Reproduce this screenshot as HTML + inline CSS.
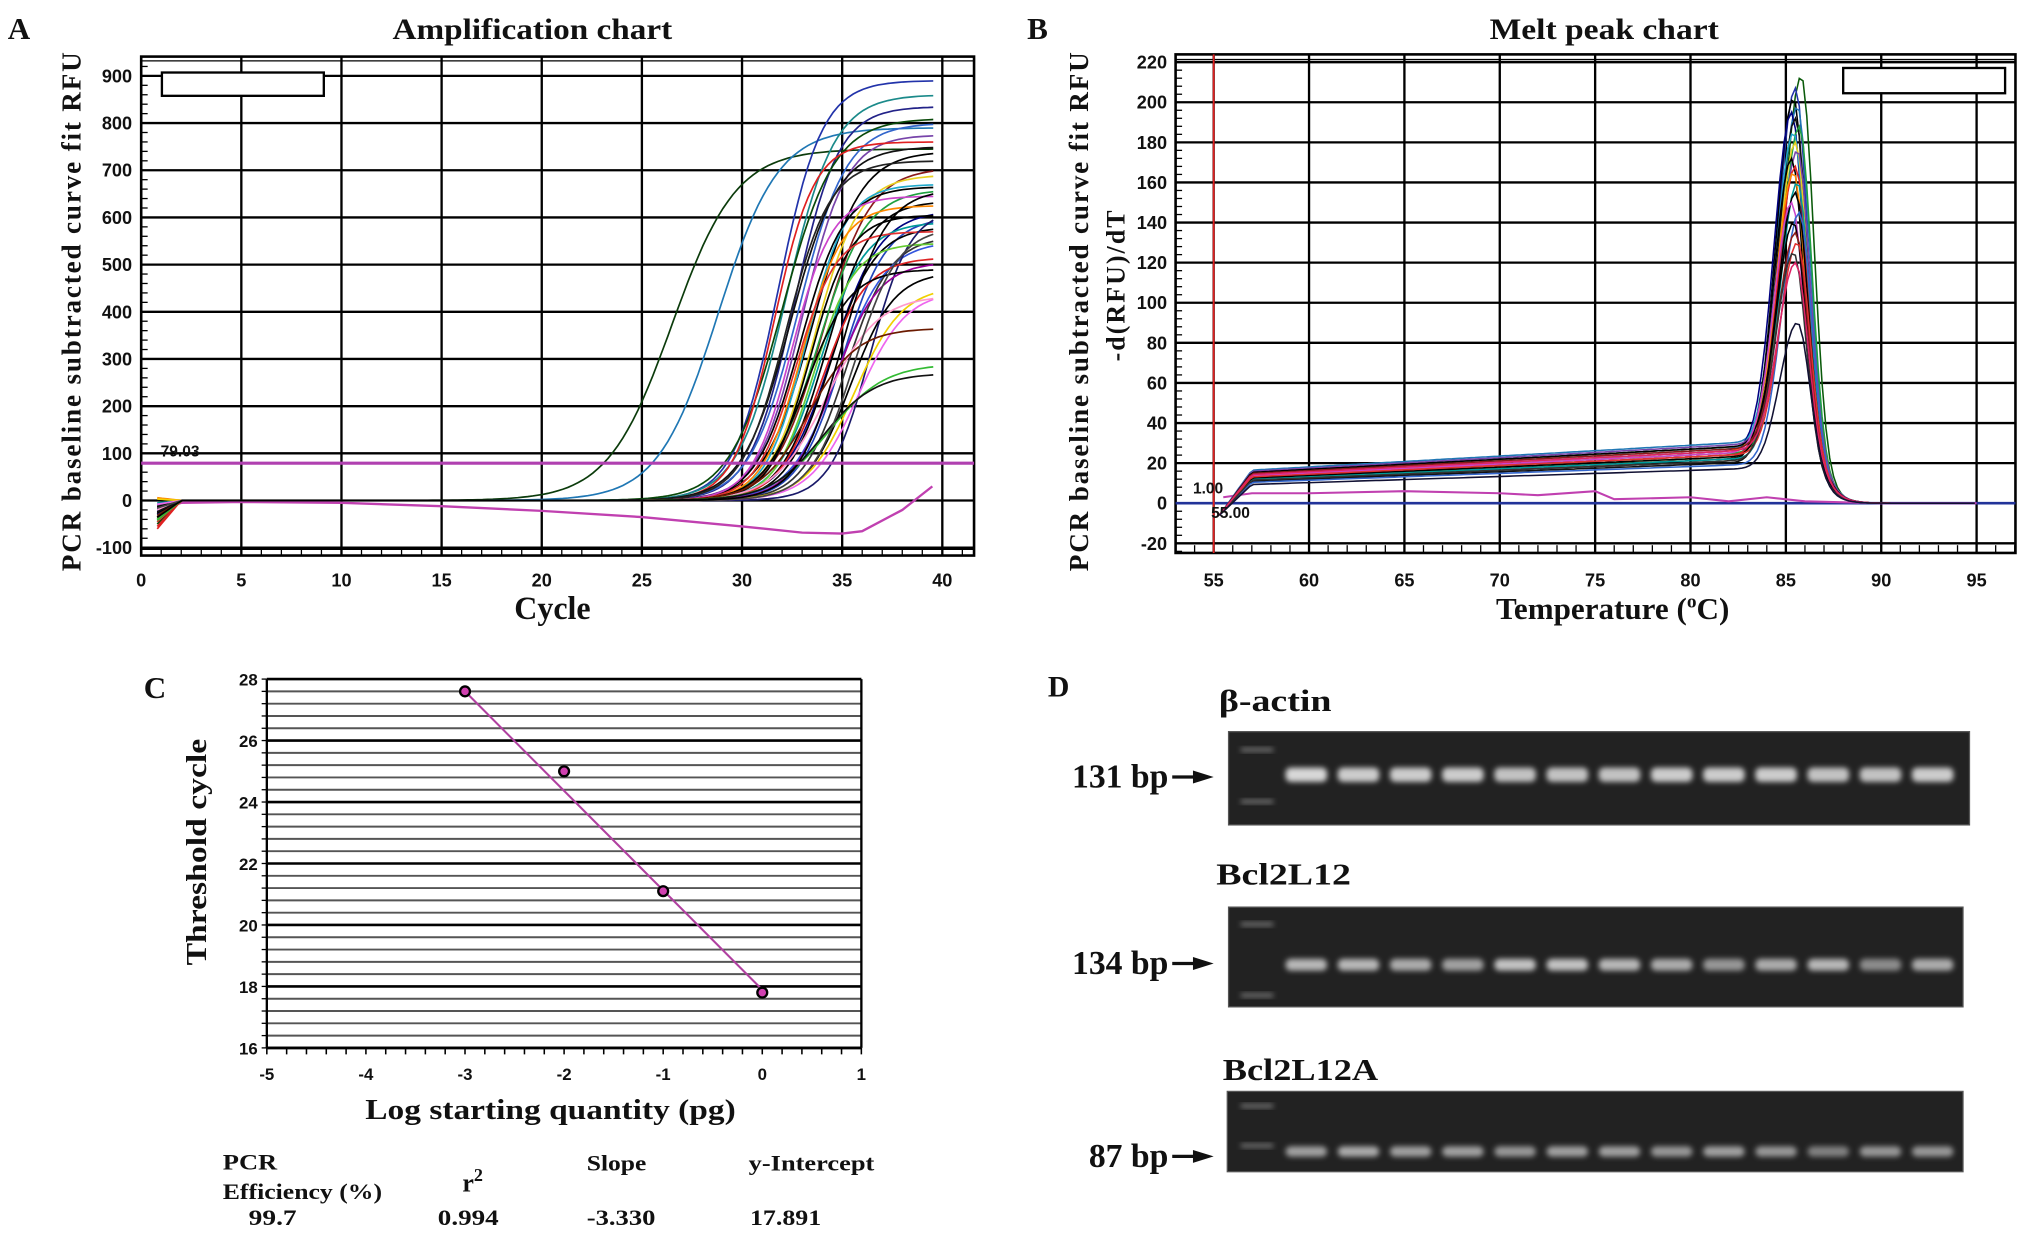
<!DOCTYPE html>
<html><head><meta charset="utf-8"><title>qPCR figure</title>
<style>
html,body{margin:0;padding:0;background:#fff;}
svg{display:block;}
.ser{font-family:"Liberation Serif",serif;font-weight:bold;fill:#111;}
.san{font-family:"Liberation Sans",sans-serif;font-weight:bold;fill:#111;}
</style></head>
<body>
<svg id="fig" xmlns="http://www.w3.org/2000/svg" width="2031" height="1238" viewBox="0 0 1568 956" preserveAspectRatio="none">
<defs><filter id="blur" x="-50%" y="-50%" width="200%" height="200%"><feGaussianBlur stdDeviation="2"/></filter></defs>
<text class="ser" x="6" y="30" font-size="24">A</text>
<text class="ser" x="303" y="30" font-size="23" textLength="216" lengthAdjust="spacingAndGlyphs">Amplification chart</text>
<text class="ser" transform="translate(62,240) rotate(-90)" font-size="21" text-anchor="middle" letter-spacing="1.4">PCR baseline subtracted curve fit RFU</text>
<text class="ser" x="397" y="478" font-size="25" textLength="59" lengthAdjust="spacingAndGlyphs">Cycle</text>

<text class="ser" x="793" y="30" font-size="24">B</text>
<text class="ser" x="1150" y="30" font-size="23" textLength="177" lengthAdjust="spacingAndGlyphs">Melt peak chart</text>
<text class="ser" transform="translate(840,240) rotate(-90)" font-size="21" text-anchor="middle" letter-spacing="1.4">PCR baseline subtracted curve fit RFU</text>
<text class="ser" transform="translate(868,220) rotate(-90)" font-size="20" text-anchor="middle" letter-spacing="1.6">-d(RFU)/dT</text>
<text class="ser" x="1155" y="478" font-size="24">Temperature (<tspan font-size="15" dy="-9">o</tspan><tspan dy="9">C)</tspan></text>

<text class="ser" x="111" y="539" font-size="24">C</text>
<text class="ser" transform="translate(159,658) rotate(-90)" font-size="22" text-anchor="middle" textLength="175" lengthAdjust="spacingAndGlyphs">Threshold cycle</text>
<text class="ser" x="282" y="864" font-size="22" textLength="286" lengthAdjust="spacingAndGlyphs">Log starting quantity (pg)</text>
<g class="ser" font-size="17">
<text x="172" y="903" textLength="42" lengthAdjust="spacingAndGlyphs">PCR</text>
<text x="172" y="926" textLength="123" lengthAdjust="spacingAndGlyphs">Efficiency (%)</text>
<text x="357" y="920" font-size="20">r<tspan font-size="14" dy="-8">2</tspan></text>
<text x="453" y="904" textLength="46" lengthAdjust="spacingAndGlyphs">Slope</text>
<text x="578" y="904" textLength="97" lengthAdjust="spacingAndGlyphs">y-Intercept</text>
<text x="192" y="946" textLength="37" lengthAdjust="spacingAndGlyphs">99.7</text>
<text x="338" y="946" textLength="47" lengthAdjust="spacingAndGlyphs">0.994</text>
<text x="453" y="946" textLength="53" lengthAdjust="spacingAndGlyphs">-3.330</text>
<text x="579" y="946" textLength="55" lengthAdjust="spacingAndGlyphs">17.891</text>
</g>

<text class="ser" x="809" y="538" font-size="23">D</text>
<text class="ser" x="941" y="549" font-size="24" textLength="87" lengthAdjust="spacingAndGlyphs">β-actin</text>
<text class="ser" x="939" y="683" font-size="24" textLength="104" lengthAdjust="spacingAndGlyphs">Bcl2L12</text>
<text class="ser" x="944" y="834" font-size="24" textLength="120" lengthAdjust="spacingAndGlyphs">Bcl2L12A</text>
<g id="plots"></g>
</svg>
<script>
// ---------------- Panel A data ----------------
const ampThreshold = 79.03;
const ampXTicks = [0,5,10,15,20,25,30,35,40];
const ampYTicks = [-100,0,100,200,300,400,500,600,700,800,900];
const ampMid = [26.5,28.8,31.8,32.2,32.6,32.0,32.8,33.0,31.6,32.4,33.5,32.2,34.0,33.6,33.2,32.9,33.8,32.5,34.2,33.0,34.5,33.4,35.0,33.9,34.4,32.7,35.2,34.8,36.4,33.6,34.0,34.6,33.2,35.4,35.6,35.8,34.2,33.3,34.3,34.0,35.6,35.0];
const ampPlateau = [745,790,890,860,835,810,800,775,760,750,740,720,705,690,670,665,660,645,635,625,615,605,600,590,580,570,560,550,620,545,515,505,490,485,455,445,435,365,290,270,580,660];
const ampSteep = [1.6,1.5,1.1,1.2,1.1,1.3,1.2,1.1,1.0,1.2,1.2,1.1,1.2,1.1,1.0,1.1,1.2,1.0,1.1,1.0,1.2,1.0,1.1,1.1,1.1,1.0,1.1,1.2,1.0,1.0,1.1,1.1,1.1,1.1,1.2,1.2,1.3,1.2,1.4,1.3,1.1,1.1];
const ampStart = [-30,-20,-10,-40,-15,-50,-25,-8,-60,-35,-20,-45,-12,5,-18,-30,-40,-10,-25,6,-15,-35,-20,-5,-28,-45,-12,-22,-30,-38,-55,-18,-26,-14,3,-8,-20,-32,-42,-24,-16,-36];
const ampColors = ['#0b3b0b','#1f77b4','#2233aa','#1b8a8a','#222288','#0a4a0a','#3366cc','#7744aa','#e02020','#111111','#000000','#222222','#8b1a1a','#e8d020','#22aacc','#000000','#20a040','#cc44cc','#000000','#ff8800','#000080','#000000','#2244bb','#009999','#000000','#e03030','#333333','#3355dd','#1a1a6a','#66cc33','#dd2222','#990099','#000000','#000000','#f0d000','#ee66ee','#ff99cc','#6b1a00','#33bb33','#111111','#444444','#000000'];
const negCycles = [0.8,2,5,10,15,20,25,30,33,35,36,38,39.5];
const negValues = [-20,-5,-3,-5,-12,-22,-35,-55,-68,-70,-65,-20,30];

// ---------------- Panel B data ----------------
const meltXTicks = [55,60,65,70,75,80,85,90,95];
const meltYTicks = [-20,0,20,40,60,80,100,120,140,160,180,200,220];
const meltPeak = [213,207,202,198,195,192,188,185,180,176,172,168,165,160,155,150,145,140,135,130,125,120,90];
const meltBase = [28,24,22,30,26,20,25,27,23,29,21,24,26,22,28,25,19,23,27,24,21,26,17];
const meltTm = [85.8,85.5,85.4,85.6,85.3,85.5,85.7,85.4,85.5,85.6,85.3,85.5,85.4,85.6,85.5,85.3,85.7,85.4,85.5,85.6,85.4,85.5,85.6];
const meltColors = ['#0a5a0a','#2233aa','#000000','#1f77b4','#000080','#111111','#20a040','#22aacc','#e8d020','#7744aa','#000000','#e02020','#ff8800','#009999','#000000','#cc44cc','#3366cc','#000000','#8b1a1a','#e03030','#333333','#dd2266','#111133'];
const meltNegT = [55.5,57,60,65,70,72,75,76,80,82,84,86,90,95];
const meltNegV = [3,5,5,6,5,4,6,2,3,1,3,1,0,0];

// ---------------- Panel C data ----------------
const stdX = [-3,-2,-1,0];
const stdY = [27.6,25.0,21.1,17.8];
const fitSlope = -3.330;
const fitIntercept = 17.891;
const stdXTicks = [-5,-4,-3,-2,-1,0,1];
const stdYTicks = [16,18,20,22,24,26,28];

// ---------------- Panel D data ----------------
const gelActin = [1.0,0.95,0.95,0.95,0.9,0.9,0.9,0.95,0.95,0.95,0.9,0.9,0.95];
const gelBcl = [0.85,0.85,0.8,0.75,0.9,0.9,0.85,0.8,0.7,0.8,0.85,0.65,0.8];
const gelBclA = [0.75,0.8,0.75,0.75,0.7,0.75,0.75,0.7,0.75,0.7,0.6,0.7,0.7];

const NS='http://www.w3.org/2000/svg';
const root=document.getElementById('plots');
function mk(tag,attrs,parent){const e=document.createElementNS(NS,tag);for(const k in attrs)e.setAttribute(k,attrs[k]);(parent||root).appendChild(e);return e;}
function lin(d0,d1,r0,r1){return v=>r0+(v-d0)*(r1-r0)/(d1-d0);}

// ===== Panel A =====
(function(){
const g=mk('g',{});


const X=lin(0,40,109,727.5), Y=lin(0,900,386.5,58.6);
const L=109,R=752,T=43.7,B=429;
mk('rect',{x:L,y:T,width:R-L,height:B-T,fill:'#fff',stroke:'#000','stroke-width':2},g);
ampXTicks.forEach(v=>{ if(v>0){const l=mk('line',{x1:X(v),x2:X(v),y1:T,y2:B,stroke:'#000','stroke-width':1.8},g);

}
const t=mk('text',{x:X(v),y:453,'text-anchor':'middle','font-size':14,class:'san'},g);t.textContent=v;

});
ampYTicks.forEach(v=>{const l=mk('line',{x1:L,x2:R,y1:Y(v),y2:Y(v),stroke:'#000','stroke-width':1.8},g);


const t=mk('text',{x:102,y:Y(v)+5,'text-anchor':'end','font-size':14,class:'san'},g);t.textContent=v;

});
mk('line',{x1:L,x2:R,y1:424,y2:424,stroke:'#000','stroke-width':1.5},g);
mk('line',{x1:L,x2:R,y1:47,y2:47,stroke:'#000','stroke-width':1},g);
for(let v=-100;v<=920;v+=20){mk('line',{x1:L,x2:L+5,y1:Y(v),y2:Y(v),stroke:'#000','stroke-width':1},g);}
for(let c=1;c<42;c++){mk('line',{x1:X(c),x2:X(c),y1:424,y2:429,stroke:'#000','stroke-width':1},g);}
const lg=mk('rect',{x:125,y:56,width:125,height:18,fill:'#fff',stroke:'#000','stroke-width':1.8},g);


let p='';negCycles.forEach((c,i)=>{p+=(i?'L':'M')+X(c).toFixed(1)+' '+Y(negValues[i]).toFixed(1);});
const neg=mk('path',{d:p,fill:'none',stroke:'#c040b0','stroke-width':1.8},g);


ampMid.forEach((m,i)=>{
 let d='';
 for(let c=0.8;c<=39.55;c+=0.25){
  let v=ampPlateau[i]/(1+Math.exp(-(c-m)/ampSteep[i]));
  if(c<2) v+=ampStart[i]*(2-c)/1.2;
  d+=(d?'L':'M')+X(c).toFixed(1)+' '+Y(v).toFixed(1);
 }
 const path=mk('path',{d:d,fill:'none',stroke:ampColors[i],'stroke-width':1.3},g);
 
 
});
const th=mk('line',{x1:L,x2:R,y1:Y(ampThreshold),y2:Y(ampThreshold),stroke:'#b040b0','stroke-width':2.4},g);


const tt=mk('text',{x:124,y:Y(ampThreshold)-5,'font-size':12,class:'san','font-weight':'normal'},g);tt.textContent=ampThreshold.toFixed(2);


})();

// ===== Panel B =====
(function(){
const g=mk('g',{});


const X=lin(55,95,937,1526), Y=lin(0,220,388.6,48);
const L=907.6,R=1556,T=42,B=427;
mk('rect',{x:L,y:T,width:R-L,height:B-T,fill:'#fff',stroke:'#000','stroke-width':2},g);
meltXTicks.forEach(v=>{const l=mk('line',{x1:X(v),x2:X(v),y1:T,y2:B,stroke:'#000','stroke-width':1.8},g);


const t=mk('text',{x:X(v),y:453,'text-anchor':'middle','font-size':14,class:'san'},g);t.textContent=v;

});
meltYTicks.forEach(v=>{const l=mk('line',{x1:L,x2:R,y1:Y(v),y2:Y(v),stroke:'#000','stroke-width':1.8},g);


const t=mk('text',{x:901,y:Y(v)+5,'text-anchor':'end','font-size':14,class:'san'},g);t.textContent=v;

});
mk('line',{x1:L,x2:R,y1:46,y2:46,stroke:'#000','stroke-width':1},g);
for(let v=-24;v<=224;v+=4){mk('line',{x1:L,x2:L+5,y1:Y(v),y2:Y(v),stroke:'#000','stroke-width':1},g);}
for(let c=53;c<=97;c++){mk('line',{x1:X(c),x2:X(c),y1:421,y2:427,stroke:'#000','stroke-width':1},g);}
const lg=mk('rect',{x:1423,y:52.5,width:125,height:19.5,fill:'#fff',stroke:'#000','stroke-width':1.8},g);


mk('line',{x1:L,x2:R,y1:Y(0),y2:Y(0),stroke:'#223399','stroke-width':2},g);
let p='';meltNegT.forEach((c,i)=>{p+=(i?'L':'M')+X(c).toFixed(1)+' '+Y(meltNegV[i]).toFixed(1);});
const neg=mk('path',{d:p,fill:'none',stroke:'#c040b0','stroke-width':1.6},g);


meltPeak.forEach((pk,i)=>{
 let d='';const b=meltBase[i],tm=meltTm[i];
 for(let t=55.3;t<=95;t+=0.2){
  let bl;
  if(t<57) bl=-6+(b*0.55+6)*(t-55.3)/1.7;
  else bl=b*0.55+b*0.45*Math.min(1,(t-57)/25);
  bl*=1/(1+Math.exp((t-87)/0.5));
  const w=t<tm?1.3:0.9;
  const e=Math.exp(-Math.pow((t-tm)/w,2));
  let v=bl*(1-e)+pk*e;
  d+=(d?'L':'M')+X(t).toFixed(1)+' '+Y(v).toFixed(1);
 }
 const path=mk('path',{d:d,fill:'none',stroke:meltColors[i],'stroke-width':1.2},g);
 
 
});
const rl=mk('line',{x1:X(55),x2:X(55),y1:T,y2:B,stroke:'#e02020','stroke-width':1.4},g);


const t1=mk('text',{x:921,y:381,'font-size':12,class:'san','font-weight':'normal'},g);t1.textContent='1.00';
const t2=mk('text',{x:935,y:400,'font-size':12,class:'san','font-weight':'normal'},g);t2.textContent='55.00';
})();

// ===== Panel C =====
(function(){
const g=mk('g',{});


const X=lin(-5,1,206,665), Y=lin(16,28,809.2,524.4);
const L=206,R=665,T=524.4,B=809.2;
for(let v=16;v<=28.001;v+=0.4){const major=Math.abs(v/2-Math.round(v/2))<0.01;
 mk('line',{x1:L,x2:R,y1:Y(v),y2:Y(v),stroke:major?'#000':'#555','stroke-width':major?2:1.5},g);
 mk('line',{x1:L-4,x2:L,y1:Y(v),y2:Y(v),stroke:'#000','stroke-width':1},g);}
mk('line',{x1:L,x2:L,y1:T,y2:B,stroke:'#000','stroke-width':1.8},g);
mk('line',{x1:R,x2:R,y1:T,y2:B,stroke:'#000','stroke-width':1.8},g);
mk('line',{x1:L,x2:R,y1:B,y2:B,stroke:'#000','stroke-width':2},g);
for(let v=-5;v<=1.001;v+=0.2){mk('line',{x1:X(v),x2:X(v),y1:B,y2:B+5,stroke:'#000','stroke-width':1.2},g);}
stdYTicks.forEach(v=>{const t=mk('text',{x:199,y:Y(v)+5,'text-anchor':'end','font-size':13,class:'san'},g);t.textContent=v;

});
stdXTicks.forEach(v=>{const t=mk('text',{x:X(v),y:834,'text-anchor':'middle','font-size':13,class:'san'},g);t.textContent=v;

});
const fit=mk('line',{x1:X(stdX[0]),y1:Y(stdY[0]),x2:X(stdX[stdX.length-1]),y2:Y(fitIntercept+fitSlope*stdX[stdX.length-1]),stroke:'#b040a0','stroke-width':1.6},g);


stdX.forEach((x,i)=>{const c=mk('circle',{cx:X(x),cy:Y(stdY[i]),r:3.8,fill:'#d040b0',stroke:'#000','stroke-width':1.8},g);

});
})();

// ===== Panel D =====
(function(){
const gels=[
 {x:948.5,y:565,w:572,h:72,band:598.3,ladder:[579,619],vals:gelActin,label:'131 bp',ly:600,bh:11,name:'beta-actin-gel'},
 {x:948.5,y:700.5,w:567,h:77,band:745,ladder:[713.7,768.6],vals:gelBcl,label:'134 bp',ly:744,bh:9,name:'bcl2l12-gel'},
 {x:947.5,y:842.8,w:568,h:62,band:889.2,ladder:[854,884.7],vals:gelBclA,label:'87 bp',ly:893,bh:8,name:'bcl2l12a-gel'}];
gels.forEach(G=>{
 const g=mk('g',{});
 
 
 mk('rect',{x:G.x,y:G.y,width:G.w,height:G.h,fill:'#222',stroke:'#555','stroke-width':1},g);
 G.ladder.forEach(ly=>{mk('rect',{x:958,y:ly-1.5,width:25,height:3,fill:'#777',filter:'url(#blur)'},g);});
 G.vals.forEach((v,i)=>{const cx=1008.5+i*40.3;
  const c=Math.round(215*v);
  const b=mk('rect',{x:cx-16,y:G.band-G.bh/2,width:32,height:G.bh,rx:4,fill:'rgb('+c+','+c+','+c+')',filter:'url(#blur)'},g);
  
  });
 const t=mk('text',{x:902,y:G.ly+8,'text-anchor':'end','font-size':26,class:'ser'},g);t.textContent=G.label;
 
 
 mk('line',{x1:905,x2:926,y1:G.ly,y2:G.ly,stroke:'#111','stroke-width':2.5},g);
 mk('path',{d:'M921 '+(G.ly-5)+' L937 '+G.ly+' L921 '+(G.ly+5)+' Z',fill:'#111'},g);
});
})();
</script>
</body></html>
